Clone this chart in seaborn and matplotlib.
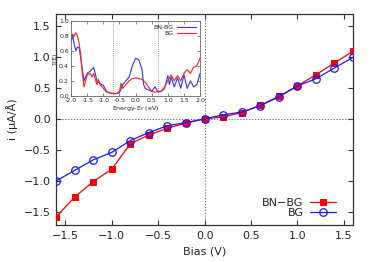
import numpy as np
import pandas as pd
import matplotlib
matplotlib.use("Agg")
import matplotlib.pyplot as plt
import seaborn as sns

# Main I-V data
bias = [-1.6, -1.4, -1.2, -1.0, -0.8, -0.6, -0.4, -0.2, 0.0, 0.2, 0.4, 0.6, 0.8, 1.0, 1.2, 1.4, 1.6]
i_bnbg = [-1.58, -1.26, -1.01, -0.81, -0.40, -0.26, -0.15, -0.07, 0.0, 0.03, 0.10, 0.22, 0.36, 0.53, 0.71, 0.90, 1.09]
i_bg = [-1.00, -0.83, -0.66, -0.54, -0.35, -0.22, -0.11, -0.06, 0.0, 0.065, 0.11, 0.21, 0.355, 0.53, 0.645, 0.82, 0.99]

# Inset transmission data
energy_bn = [-2.0, -1.95, -1.9, -1.85, -1.8, -1.75, -1.7, -1.65, -1.6, -1.55, -1.5, -1.4, -1.3, -1.25, -1.2,
             -1.1, -1.0, -0.9, -0.8, -0.7, -0.6, -0.5, -0.4, -0.3, -0.2, -0.1, 0.0, 0.1, 0.2, 0.25, 0.3,
             0.4, 0.5, 0.6, 0.7, 0.8, 0.9, 1.0, 1.05, 1.1, 1.2, 1.3, 1.4, 1.5, 1.6, 1.7, 1.8, 1.9, 2.0]
t_bn = [0.72, 0.80, 0.68, 0.60, 0.65, 0.64, 0.50, 0.35, 0.20, 0.25, 0.30, 0.33, 0.38, 0.30, 0.20,
        0.16, 0.14, 0.06, 0.04, 0.03, 0.03, 0.04, 0.15, 0.20, 0.25, 0.40, 0.50, 0.48, 0.35, 0.15, 0.10,
        0.08, 0.06, 0.12, 0.05, 0.06, 0.10, 0.27, 0.15, 0.25, 0.12, 0.24, 0.10, 0.28, 0.10, 0.20, 0.12, 0.15, 0.30]
energy_bg = [-2.0, -1.95, -1.9, -1.85, -1.8, -1.75, -1.7, -1.65, -1.6, -1.55, -1.5, -1.4, -1.35, -1.3, -1.2,
             -1.15, -1.1, -1.0, -0.9, -0.8, -0.6, -0.5, -0.45, -0.4, -0.3, -0.2, -0.1, 0.0, 0.1, 0.2, 0.3,
             0.4, 0.5, 0.6, 0.7, 0.8, 0.9, 1.0, 1.1, 1.2, 1.3, 1.4, 1.5, 1.6, 1.7, 1.8, 1.9, 2.0]
t_bg = [0.78, 0.82, 0.80, 0.84, 0.80, 0.70, 0.55, 0.30, 0.12, 0.20, 0.28, 0.30, 0.25, 0.30, 0.15,
        0.22, 0.15, 0.10, 0.05, 0.04, 0.03, 0.06, 0.17, 0.10, 0.15, 0.20, 0.23, 0.24, 0.23, 0.22, 0.18,
        0.12, 0.06, 0.05, 0.06, 0.06, 0.12, 0.20, 0.28, 0.20, 0.27, 0.20, 0.30, 0.35, 0.30, 0.38, 0.40, 0.50]

sns.set_style("ticks")
plt.rcParams['font.family'] = ['DejaVu Sans']

fig = plt.figure(figsize=(3.74, 2.62), dpi=100)
ax = fig.add_axes([0.150, 0.141, 0.794, 0.806])

df_main = pd.DataFrame({"bias": bias * 2,
                        "i": i_bnbg + i_bg,
                        "series": ["BN\u2212BG"] * len(bias) + ["BG"] * len(bias)})

ax.axhline(0, color="#555555", lw=0.6, ls=(0, (1.5, 2.0)), zorder=1)
ax.axvline(0, color="#555555", lw=0.6, ls=(0, (1.5, 2.0)), zorder=1)

sns.lineplot(data=df_main[df_main.series == "BN\u2212BG"], x="bias", y="i", ax=ax,
             color="#ff0000", lw=0.9, marker="s", markersize=4.8, markeredgecolor="#ff0000",
             markerfacecolor="#ff0000", label="BN\u2212BG", zorder=3)
sns.lineplot(data=df_main[df_main.series == "BG"], x="bias", y="i", ax=ax,
             color="#1a1aff", lw=0.9, marker="o", markersize=5.4, markeredgecolor="#1a1aff",
             markerfacecolor="none", markeredgewidth=0.9, label="BG", zorder=4)

ax.set_xlim(-1.6, 1.6)
ax.set_ylim(-1.71, 1.69)
ax.set_xticks([-1.5, -1.0, -0.5, 0.0, 0.5, 1.0, 1.5])
ax.set_yticks([-1.5, -1.0, -0.5, 0.0, 0.5, 1.0, 1.5])
ax.xaxis.set_major_formatter(matplotlib.ticker.FuncFormatter(lambda v, p: f"{v:.1f}".replace("-", "\u2212")))
ax.yaxis.set_major_formatter(matplotlib.ticker.FuncFormatter(lambda v, p: f"{v:.1f}".replace("-", "\u2212")))
ax.tick_params(direction="in", length=3.5, width=0.8, top=True, right=True, labelsize=8, pad=4, color="#333333")
for s in ax.spines.values():
    s.set_linewidth(0.9)
    s.set_color("#333333")
ax.set_xlabel("Bias (V)", fontsize=8, labelpad=4)
ax.set_ylabel("i (\u03bcA/\u00c5)", fontsize=8, labelpad=4)

leg = ax.legend(loc="lower right", frameon=False, fontsize=8, markerfirst=False,
                handlelength=2.3, handletextpad=0.6, labelspacing=0.0,
                bbox_to_anchor=(0.975, -0.015))

# Inset
ins = fig.add_axes([0.190, 0.634, 0.345, 0.287])
df_bn = pd.DataFrame({"E": energy_bn, "T": t_bn})
df_bg = pd.DataFrame({"E": energy_bg, "T": t_bg})
ins.axvline(-0.7, color="#555555", lw=0.5, ls=(0, (1.0, 1.8)))
ins.axvline(0.7, color="#555555", lw=0.5, ls=(0, (1.0, 1.8)))
sns.lineplot(data=df_bn, x="E", y="T", ax=ins, color="#3333ff", lw=0.8, label="BN-BG")
sns.lineplot(data=df_bg, x="E", y="T", ax=ins, color="#ff2020", lw=0.8, label="BG")
ins.set_xlim(-2.0, 2.0)
ins.set_ylim(0.0, 1.0)
ins.set_xticks(np.arange(-2.0, 2.01, 0.5))
ins.set_yticks(np.arange(0.0, 1.01, 0.2))
ins.xaxis.set_major_formatter(matplotlib.ticker.FuncFormatter(lambda v, p: f"{v:.1f}"))
ins.yaxis.set_major_formatter(matplotlib.ticker.FuncFormatter(lambda v, p: f"{v:.1f}"))
ins.tick_params(direction="in", length=2, width=0.5, top=True, right=True, labelsize=4.5, pad=1.5, color="#555555")
for s in ins.spines.values():
    s.set_linewidth(0.6)
    s.set_color("#666666")
ins.set_xlabel("Energy-E$_F$ (eV)", fontsize=4.5, labelpad=1)
ins.set_ylabel("T(E)", fontsize=4.5, labelpad=1)
ins.legend(loc="upper right", frameon=False, fontsize=4.5, markerfirst=False,
           handlelength=3.0, handletextpad=0.6, labelspacing=0.1, borderaxespad=0.3)

fig.savefig("out.png", dpi=100)
